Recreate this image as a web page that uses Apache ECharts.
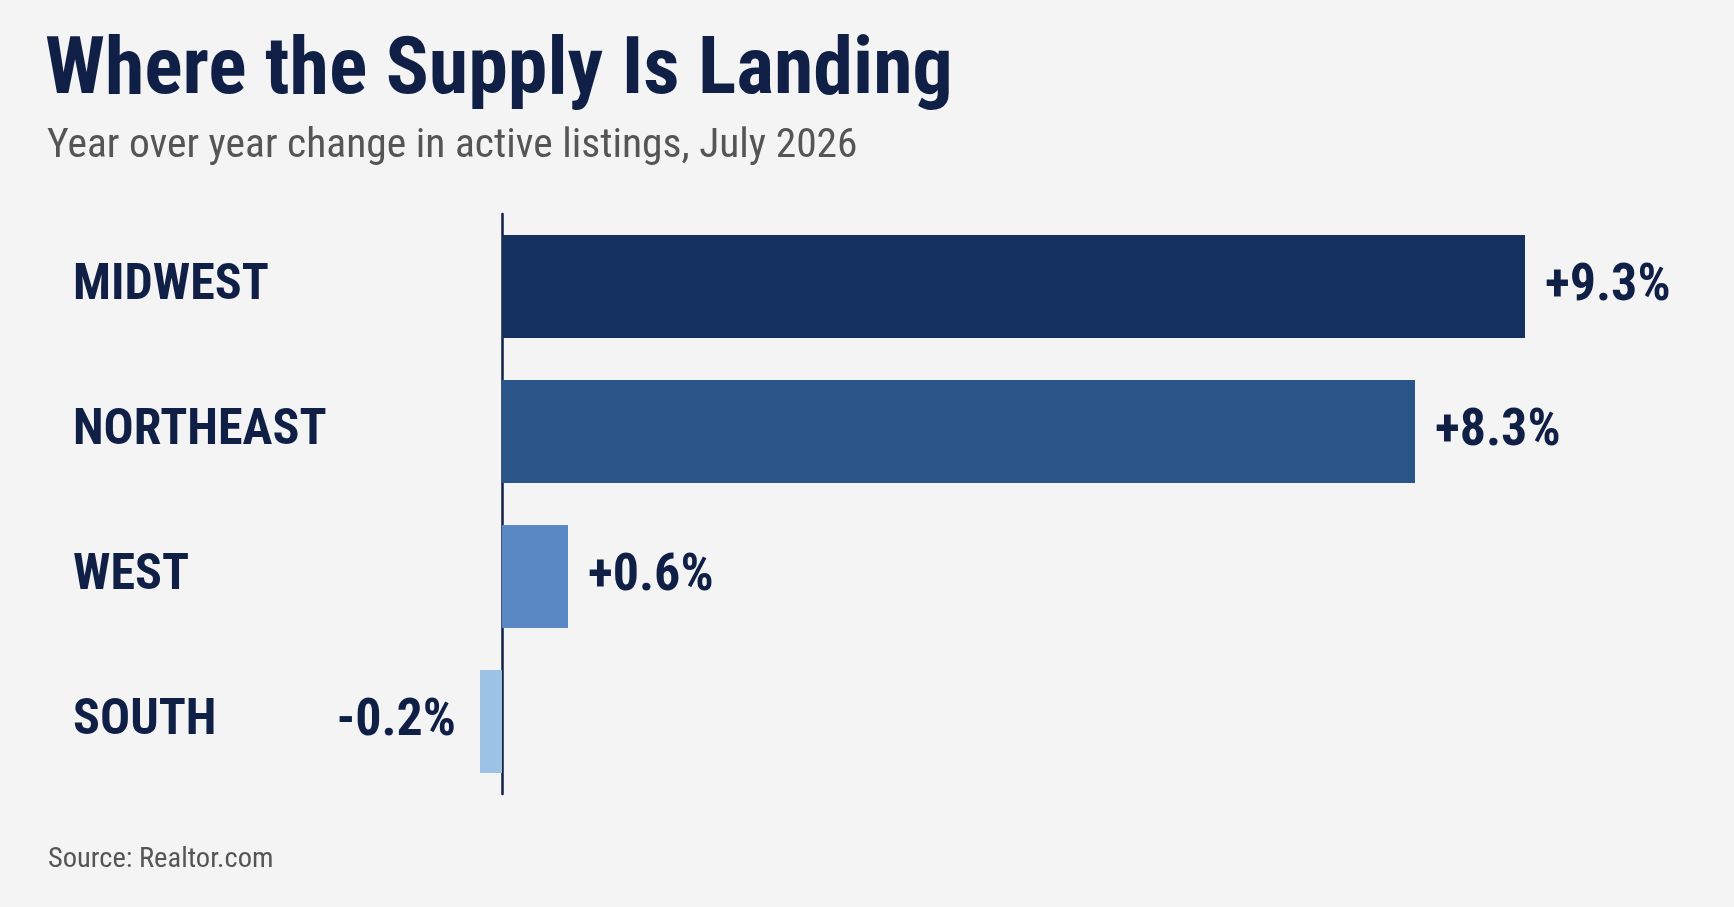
<!DOCTYPE html>
<html>
<head>
<meta charset="utf-8">
<script src="https://cdn.jsdelivr.net/npm/echarts@6/dist/echarts.min.js"></script>
<style>
html,body{margin:0;padding:0;background:#f4f4f4;}
#c{width:1734px;height:907px;}
</style>
</head>
<body>
<div id="c"></div>
<script>
const categories = ['MIDWEST', 'NORTHEAST', 'WEST', 'SOUTH'];
const values = [9.3, 8.3, 0.6, -0.2];
const barColors = ['#13305e', '#2a5588', '#5a88c4', '#9cc3e6'];
const titleText = 'Where the Supply Is Landing';
const subtitleText = 'Year over year change in active listings, July 2026';
const sourceText = 'Source: Realtor.com';

const NARROW = '"Liberation Sans Narrow", "Arial Narrow", "Roboto Condensed", sans-serif';
const NAVY = '#0f1f45';

const chart = echarts.init(document.getElementById('c'), null, {renderer: 'canvas'});

const seriesData = values.map((v, i) => ({
  value: v,
  itemStyle: {color: barColors[i]},
  label: {position: v < 0 ? 'left' : 'right', distance: v < 0 ? 24 : 20}
}));

chart.setOption({
  backgroundColor: '#f4f4f4',
  animation: false,
  title: [
    {
      text: titleText,
      left: 40, top: 28,
      textStyle: {fontFamily: NARROW, fontWeight: 'bold', fontSize: 80, color: NAVY}
    },
    {
      text: subtitleText,
      left: 42, top: 121,
      textStyle: {fontFamily: NARROW, fontWeight: 'normal', fontSize: 41.5, color: '#555555'}
    },
    {
      text: sourceText,
      left: 43, top: 840,
      textStyle: {fontFamily: NARROW, fontWeight: 'normal', fontSize: 28.5, color: '#555555'}
    }
  ],
  grid: {left: 392, right: 77, top: 214, bottom: 113, containLabel: false},
  xAxis: {
    type: 'value', min: -1, max: 10.5,
    axisLine: {show: false}, axisTick: {show: false},
    axisLabel: {show: false}, splitLine: {show: false}
  },
  yAxis: {
    type: 'category', data: categories, inverse: true,
    axisLine: {show: true, onZero: true, lineStyle: {color: NAVY, width: 2.5}},
    axisTick: {show: false},
    axisLabel: {
      align: 'left', margin: 319,
      fontFamily: NARROW, fontWeight: 'bold', fontSize: 50, color: NAVY
    }
  },
  series: [{
    type: 'bar',
    data: seriesData,
    barCategoryGap: '29%',
    label: {
      show: true,
      fontFamily: NARROW, fontWeight: 'bold', fontSize: 52, color: NAVY,
      formatter: p => (p.value > 0 ? '+' : '') + p.value.toFixed(1) + '%'
    }
  }]
});
</script>
</body>
</html>
